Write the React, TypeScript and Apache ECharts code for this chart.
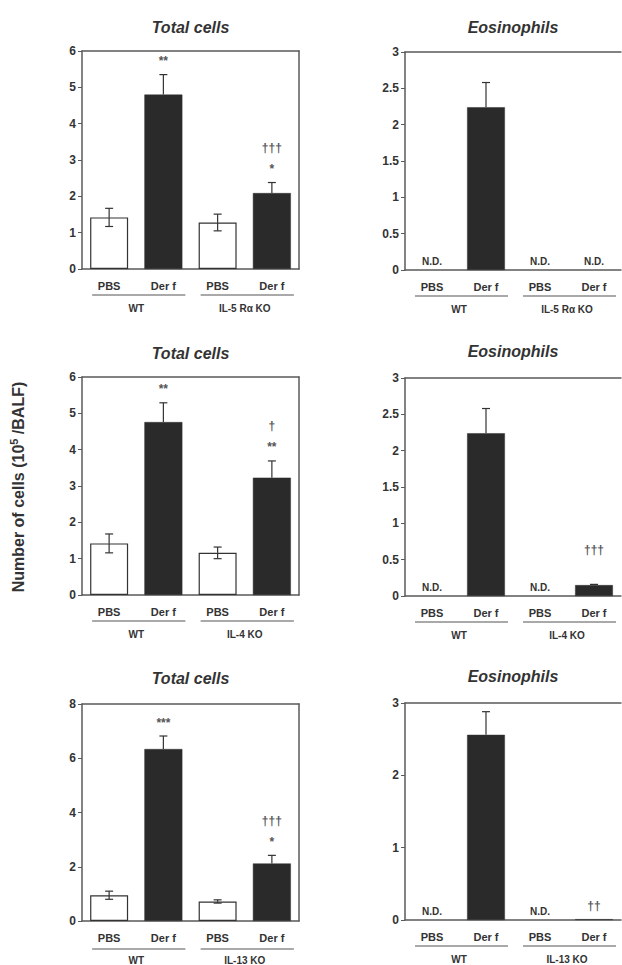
import React, { useEffect, useRef } from 'react';
import * as echarts from 'echarts';

// ---- data ----
const categories = ['PBS', 'Der f', 'PBS', 'Der f'];
const groupsIL5 = ['WT', 'IL-5 Rα KO'];
const groupsIL4 = ['WT', 'IL-4 KO'];
const groupsIL13 = ['WT', 'IL-13 KO'];

const totalIL5Mean = [1.42, 4.8, 1.28, 2.09];
const totalIL5Sd = [0.25, 0.55, 0.23, 0.29];
const totalIL5Sig = ['', '**', '', '†††\n*'];
const totalIL5ND = [false, false, false, false];

const eosIL5Mean = [0, 2.24, 0, 0];
const eosIL5Sd = [0, 0.34, 0, 0];
const eosIL5Sig = ['', '', '', ''];
const eosIL5ND = [true, false, true, true];

const totalIL4Mean = [1.42, 4.76, 1.16, 3.23];
const totalIL4Sd = [0.26, 0.53, 0.16, 0.46];
const totalIL4Sig = ['', '**', '', '†\n**'];
const totalIL4ND = [false, false, false, false];

const eosIL4Mean = [0, 2.24, 0, 0.15];
const eosIL4Sd = [0, 0.34, 0, 0.01];
const eosIL4Sig = ['', '', '', '†††\n'];
const eosIL4ND = [true, false, true, false];

const totalIL13Mean = [0.95, 6.34, 0.72, 2.12];
const totalIL13Sd = [0.15, 0.48, 0.06, 0.3];
const totalIL13Sig = ['', '***', '', '†††\n*'];
const totalIL13ND = [false, false, false, false];

const eosIL13Mean = [0, 2.56, 0, 0.012];
const eosIL13Sd = [0, 0.32, 0, 0];
const eosIL13Sig = ['', '', '', '††'];
const eosIL13ND = [true, false, true, false];

const FONT = '"Liberation Sans", Arial, Helvetica, sans-serif';
const AXIS_COLOR = '#5a5a5a';
const TEXT_COLOR = '#333';
const DARK = '#2a2a2a';

type Panel = {
  mean: number[]; sd: number[]; sig: string[]; nd: boolean[]; groups: string[];
  title: string; max: number; interval: number;
  left: number; width: number; top: number; height: number; frame: boolean; titleY: number;
};

const panels: Panel[] = [
  { mean: totalIL5Mean, sd: totalIL5Sd, sig: totalIL5Sig, nd: totalIL5ND, groups: groupsIL5, title: 'Total cells', max: 6, interval: 1, left: 82, width: 217, top: 51, height: 218, frame: true, titleY: 27 },
  { mean: eosIL5Mean, sd: eosIL5Sd, sig: eosIL5Sig, nd: eosIL5ND, groups: groupsIL5, title: 'Eosinophils', max: 3, interval: 0.5, left: 405, width: 216, top: 52, height: 218, frame: false, titleY: 27 },
  { mean: totalIL4Mean, sd: totalIL4Sd, sig: totalIL4Sig, nd: totalIL4ND, groups: groupsIL4, title: 'Total cells', max: 6, interval: 1, left: 82, width: 217, top: 377, height: 218, frame: true, titleY: 353 },
  { mean: eosIL4Mean, sd: eosIL4Sd, sig: eosIL4Sig, nd: eosIL4ND, groups: groupsIL4, title: 'Eosinophils', max: 3, interval: 0.5, left: 405, width: 216, top: 378, height: 218, frame: false, titleY: 351 },
  { mean: totalIL13Mean, sd: totalIL13Sd, sig: totalIL13Sig, nd: totalIL13ND, groups: groupsIL13, title: 'Total cells', max: 8, interval: 2, left: 82, width: 217, top: 704, height: 219, frame: true, titleY: 678 },
  { mean: eosIL13Mean, sd: eosIL13Sd, sig: eosIL13Sig, nd: eosIL13ND, groups: groupsIL13, title: 'Eosinophils', max: 3, interval: 1, left: 405, width: 216, top: 703, height: 217, frame: false, titleY: 676 },
];

export default function App() {
  const ref = useRef<HTMLDivElement>(null);

  useEffect(() => {
    if (!ref.current) return;
    const chart = echarts.init(ref.current, undefined, { renderer: 'svg', width: 622, height: 965 });

    const grid: any[] = [];
    const xAxis: any[] = [];
    const yAxis: any[] = [];
    const series: any[] = [];
    const graphic: any[] = [];

    panels.forEach((p, k) => {
      grid.push({ left: p.left, top: p.top, width: p.width, height: p.height, containLabel: false });
      xAxis.push({
        type: 'category', gridIndex: k, data: categories, position: 'bottom',
        axisLine: { show: true, lineStyle: { color: AXIS_COLOR, width: 1.5 } },
        axisTick: { show: false },
        axisLabel: { margin: 11, fontFamily: FONT, fontWeight: 'bold', fontSize: 11, color: TEXT_COLOR },
      });
      xAxis.push({
        type: 'category', gridIndex: k, data: p.groups, position: 'bottom',
        axisLine: { show: false }, axisTick: { show: false },
        axisLabel: { margin: 34, fontFamily: FONT, fontWeight: 'bold', fontSize: 10, color: TEXT_COLOR },
      });
      xAxis.push({
        type: 'category', gridIndex: k, data: categories, position: 'top',
        axisLine: { show: true, lineStyle: { color: AXIS_COLOR, width: 1.5 } },
        axisTick: { show: false }, axisLabel: { show: false },
      });
      yAxis.push({
        type: 'value', gridIndex: k, min: 0, max: p.max, interval: p.interval, position: 'left',
        axisLine: { show: true, lineStyle: { color: AXIS_COLOR, width: 1.5 } },
        axisTick: { show: true, inside: false, length: 4, lineStyle: { color: AXIS_COLOR, width: 1 } },
        axisLabel: { margin: 6, fontFamily: FONT, fontWeight: 'bold', fontSize: 12, color: TEXT_COLOR },
        splitLine: { show: false },
      });
      yAxis.push({
        type: 'value', gridIndex: k, min: 0, max: p.max, position: 'right', show: p.frame,
        axisLine: { show: true, lineStyle: { color: AXIS_COLOR, width: 1.5 } },
        axisTick: { show: false }, axisLabel: { show: false }, splitLine: { show: false },
      });

      const xi = 3 * k;
      const yi = 2 * k;

      series.push({
        type: 'bar', xAxisIndex: xi, yAxisIndex: yi, barWidth: '70%',
        data: p.mean.map((v, i) => ({
          value: v,
          itemStyle: {
            color: i % 2 === 0 ? '#ffffff' : DARK,
            borderColor: '#333', borderWidth: v === 0 ? 0 : i % 2 === 0 ? 1.2 : 0.5,
          },
        })),
        z: 2,
      });

      series.push({
        type: 'custom', xAxisIndex: xi, yAxisIndex: yi, z: 3,
        data: p.mean.map((v, i) => [i, v, p.sd[i]]),
        renderItem: (params: any, api: any) => {
          const i = api.value(0);
          const m = api.value(1);
          const s = api.value(2);
          if (!s) return null;
          const mid = api.coord([i, m]);
          const top = api.coord([i, m + s]);
          const bot = api.coord([i, Math.max(0, m - s)]);
          const cap = 4;
          const st = { stroke: '#333', lineWidth: 1.2 };
          const light = i % 2 === 0;
          const children: any[] = [
            { type: 'line', shape: { x1: top[0], y1: top[1], x2: mid[0], y2: mid[1] }, style: st },
            { type: 'line', shape: { x1: top[0] - cap, y1: top[1], x2: top[0] + cap, y2: top[1] }, style: st },
          ];
          if (light) {
            children.push(
              { type: 'line', shape: { x1: mid[0], y1: mid[1], x2: bot[0], y2: bot[1] }, style: st },
              { type: 'line', shape: { x1: bot[0] - cap, y1: bot[1], x2: bot[0] + cap, y2: bot[1] }, style: st },
            );
          }
          return { type: 'group', children };
        },
      });

      series.push({
        type: 'custom', xAxisIndex: xi, yAxisIndex: yi, z: 4,
        data: p.mean.map((v, i) => [i, v + p.sd[i]]),
        renderItem: (params: any, api: any) => {
          const idx = params.dataIndex;
          const i = api.value(0);
          const topVal = api.value(1);
          const text = p.sig[idx];
          const nd = p.nd[idx];
          const children: any[] = [];
          if (text) {
            const pt = api.coord([i, topVal]);
            children.push({
              type: 'text', x: pt[0], y: pt[1] - 3,
              style: {
                text, fill: '#555', font: `bold 12px ${FONT}`,
                textAlign: 'center', textVerticalAlign: 'bottom', align: 'center', verticalAlign: 'bottom',
                lineHeight: 21,
              },
            });
          }
          if (nd) {
            const pt = api.coord([i, 0]);
            children.push({
              type: 'text', x: pt[0], y: pt[1] - 4,
              style: {
                text: 'N.D.', fill: TEXT_COLOR, font: `bold 10px ${FONT}`,
                textAlign: 'center', textVerticalAlign: 'bottom', align: 'center', verticalAlign: 'bottom',
              },
            });
          }
          if (!children.length) return null;
          return { type: 'group', children };
        },
      });

      graphic.push({
        type: 'text', x: p.left + p.width / 2, y: p.titleY,
        style: {
          text: p.title, fill: '#333', font: `italic bold 16px ${FONT}`,
          textAlign: 'center', textVerticalAlign: 'middle', align: 'center', verticalAlign: 'middle',
        },
      });
    });

    graphic.push({
      type: 'text', x: 18, y: 487, rotation: Math.PI / 2,
      style: {
        text: '{a|Number of cells (10}{s|5}{a| /BALF)}',
        textAlign: 'center', textVerticalAlign: 'middle', align: 'center', verticalAlign: 'middle',
        rich: {
          a: { fontFamily: FONT, fontWeight: 'bold', fontSize: 16, fill: '#333', color: '#333' },
          s: { fontFamily: FONT, fontWeight: 'bold', fontSize: 11, fill: '#333', color: '#333', verticalAlign: 'top', padding: [0, 0, 8, 0] },
        },
      },
    });

    chart.setOption({
      animation: false,
      backgroundColor: '#ffffff',
      grid, xAxis, yAxis, series, graphic,
    });

    const lines: any[] = [];
    panels.forEach((p, k) => {
      const xi = 3 * k;
      const yPix = p.top + p.height + 26;
      [[0, 1], [2, 3]].forEach(([a, b]) => {
        const xa = chart.convertToPixel({ xAxisIndex: xi }, a) as number;
        const xb = chart.convertToPixel({ xAxisIndex: xi }, b) as number;
        lines.push({
          type: 'line', shape: { x1: xa - 17, y1: yPix, x2: xb + 22, y2: yPix },
          style: { stroke: '#555', lineWidth: 1.2 },
        });
      });
    });
    chart.setOption({ graphic: [...graphic, ...lines] });

    return () => chart.dispose();
  }, []);

  return (
    <div
      ref={ref}
      style={{ position: 'absolute', left: 0, top: 0, width: 622, height: 965, background: '#fff' }}
    />
  );
}
